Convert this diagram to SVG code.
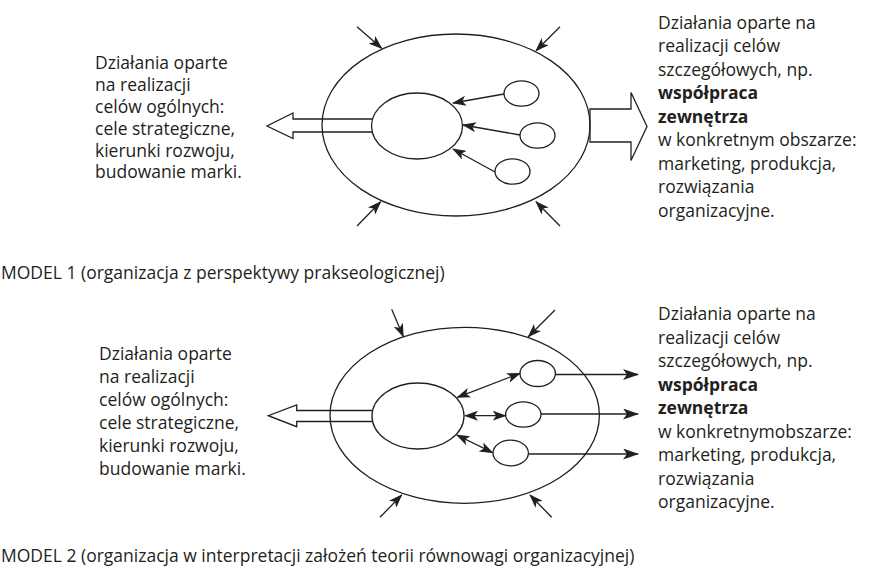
<svg xmlns="http://www.w3.org/2000/svg" width="872" height="571" viewBox="0 0 872 571">
<style>
text{font-family:"Open Sans","Noto Sans","Liberation Sans",sans-serif;font-size:17.5px;fill:#231f20}
.b{font-weight:bold}
.el{fill:none;stroke:#231f20;stroke-width:1.3}
.elw{fill:#fff;stroke:#231f20;stroke-width:1.3}
.ln{fill:none;stroke:#231f20;stroke-width:1.3}
.fat{fill:none;stroke:#231f20;stroke-width:1.3;stroke-linejoin:miter}
</style>
<defs>
<marker id="ah" viewBox="0 0 14 10" refX="13" refY="5" markerWidth="14" markerHeight="10" markerUnits="userSpaceOnUse" orient="auto-start-reverse">
<path d="M0,0 L14,5 L0,10 L3.5,5 z" fill="#231f20"/>
</marker>
<marker id="ah2" viewBox="0 0 16 11" refX="15" refY="5.5" markerWidth="16" markerHeight="11" markerUnits="userSpaceOnUse" orient="auto">
<path d="M0,0 L16,5.5 L0,11 L4,5.5 z" fill="#231f20"/>
</marker>
</defs>

<!-- MODEL 1 -->
<g id="m1-outer"><ellipse class="el" cx="456" cy="125" rx="134" ry="91"/></g>
<g id="m1-left-arrow"><path class="fat" d="M380,119 L293,119 L293,113 L267,126 L293,138.5 L293,132 L380,132"/></g>
<g id="m1-right-arrow"><path class="fat" d="M590,109 L631,109 L631,92.5 L647,126.5 L631,160.5 L631,142 L590,142 Z"/></g>
<g id="m1-center"><ellipse class="elw" cx="417" cy="126" rx="45.5" ry="33"/></g>
<g id="m1-s1"><ellipse class="elw" cx="521.5" cy="93.5" rx="17.5" ry="12.7"/></g>
<g id="m1-s2"><ellipse class="elw" cx="537.5" cy="135.5" rx="17.5" ry="12.7"/></g>
<g id="m1-s3"><ellipse class="elw" cx="512.5" cy="171.5" rx="17.5" ry="12.7"/></g>
<g id="m1-connectors">
<line class="ln" x1="504" y1="94" x2="453" y2="103" marker-end="url(#ah)"/>
<line class="ln" x1="520" y1="135" x2="463" y2="125" marker-end="url(#ah)"/>
<line class="ln" x1="495" y1="172" x2="453" y2="149" marker-end="url(#ah)"/>
<line class="ln" x1="357" y1="26.7" x2="381.7" y2="48.3" marker-end="url(#ah)"/>
<line class="ln" x1="560" y1="26.7" x2="536" y2="50.7" marker-end="url(#ah)"/>
<line class="ln" x1="357" y1="226" x2="380.7" y2="201.7" marker-end="url(#ah)"/>
<line class="ln" x1="560" y1="226" x2="536" y2="201.7" marker-end="url(#ah)"/>
</g>
<g id="m1-left-text">
<text x="95" y="69.3">Działania oparte</text>
<text x="95" y="91.1">na realizacji</text>
<text x="95" y="112.9">celów ogólnych:</text>
<text x="95" y="134.7">cele strategiczne,</text>
<text x="95" y="156.5">kierunki rozwoju,</text>
<text x="95" y="178.3">budowanie marki.</text>
</g>
<g id="m1-right-text">
<text x="658" y="28.5">Działania oparte na</text>
<text x="658" y="52">realizacji celów</text>
<text x="658" y="75.5">szczegółowych, np.</text>
<text x="658" y="99" class="b">współpraca</text>
<text x="658" y="122.5" class="b">zewnętrza</text>
<text x="658" y="146">w konkretnym obszarze:</text>
<text x="658" y="169.5">marketing, produkcja,</text>
<text x="658" y="193">rozwiązania</text>
<text x="658" y="216.5">organizacyjne.</text>
</g>
<text id="caption1" x="1" y="279">MODEL 1 (organizacja z perspektywy prakseologicznej)</text>

<!-- MODEL 2 -->
<g id="m2-outer"><ellipse class="el" cx="464.7" cy="415.3" rx="134.7" ry="88"/></g>
<g id="m2-left-arrow"><path class="fat" d="M380,410.5 L296.7,410.5 L296.7,405 L268.3,415.7 L296.7,426.7 L296.7,421.5 L380,421.5"/></g>
<g id="m2-center"><ellipse class="elw" cx="418" cy="416" rx="46" ry="33"/></g>
<g id="m2-s1"><ellipse class="elw" cx="537.7" cy="373.5" rx="17.7" ry="13"/></g>
<g id="m2-s2"><ellipse class="elw" cx="523.3" cy="414.5" rx="17.7" ry="12.7"/></g>
<g id="m2-s3"><ellipse class="elw" cx="510.7" cy="453" rx="17.7" ry="12.8"/></g>
<g id="m2-connectors">
<line class="ln" x1="457.3" y1="397.3" x2="520" y2="373.3" marker-start="url(#ah)" marker-end="url(#ah)"/>
<line class="ln" x1="465" y1="415.7" x2="505.7" y2="415.7" marker-start="url(#ah)" marker-end="url(#ah)"/>
<line class="ln" x1="456.7" y1="435" x2="492.7" y2="452.7" marker-start="url(#ah)" marker-end="url(#ah)"/>
<line class="ln" x1="555.4" y1="374.5" x2="638" y2="374.5" marker-end="url(#ah2)"/>
<line class="ln" x1="541" y1="414" x2="638" y2="414" marker-end="url(#ah2)"/>
<line class="ln" x1="528.4" y1="454" x2="638" y2="454" marker-end="url(#ah2)"/>
<line class="ln" x1="391.7" y1="309.3" x2="403.3" y2="336.7" marker-end="url(#ah)"/>
<line class="ln" x1="555" y1="310" x2="528.3" y2="336.7" marker-end="url(#ah)"/>
<line class="ln" x1="380" y1="517.3" x2="401.7" y2="495" marker-end="url(#ah)"/>
<line class="ln" x1="551.7" y1="517.3" x2="530" y2="495" marker-end="url(#ah)"/>
</g>
<g id="m2-left-text">
<text x="99" y="360">Działania oparte</text>
<text x="99" y="383">na realizacji</text>
<text x="99" y="406">celów ogólnych:</text>
<text x="99" y="429">cele strategiczne,</text>
<text x="99" y="452">kierunki rozwoju,</text>
<text x="99" y="475">budowanie marki.</text>
</g>
<g id="m2-right-text">
<text x="658" y="320">Działania oparte na</text>
<text x="658" y="343.5">realizacji celów</text>
<text x="658" y="367">szczegółowych, np.</text>
<text x="658" y="390.5" class="b">współpraca</text>
<text x="658" y="414" class="b">zewnętrza</text>
<text x="658" y="437.5">w konkretnymobszarze:</text>
<text x="658" y="461">marketing, produkcja,</text>
<text x="658" y="484.5">rozwiązania</text>
<text x="658" y="508">organizacyjne.</text>
</g>
<text id="caption2" x="1" y="562">MODEL 2 (organizacja w interpretacji założeń teorii równowagi organizacyjnej)</text>
</svg>
